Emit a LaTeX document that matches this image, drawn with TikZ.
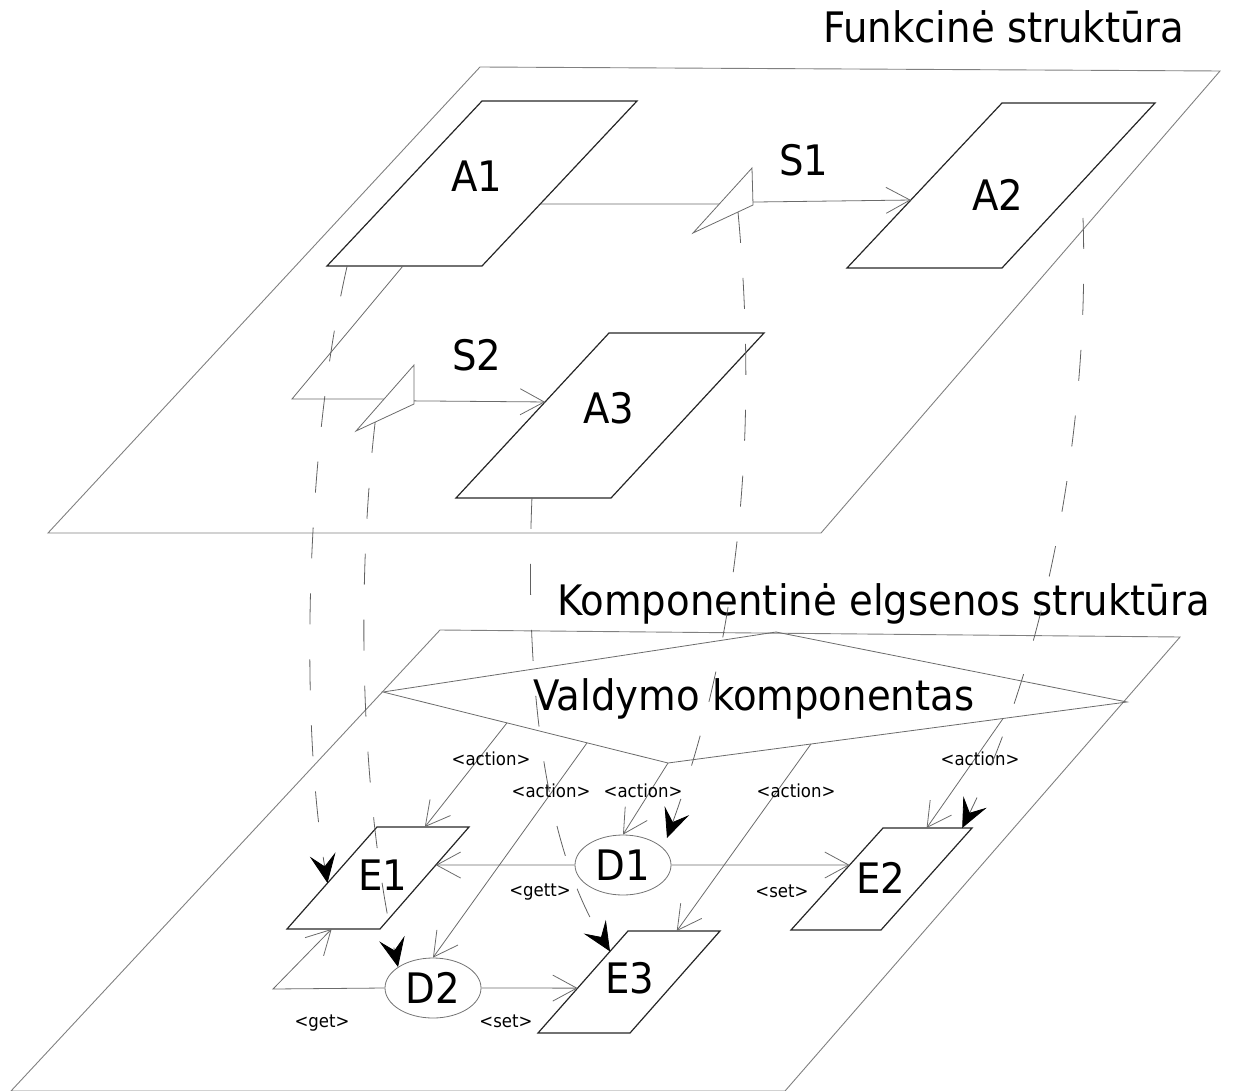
\documentclass[tikz,border=0pt]{standalone}
\usepackage{fontspec}
\setmainfont{DejaVu Sans}[FakeStretch=0.92]
\usetikzlibrary{arrows.meta,shapes.geometric,calc}

\begin{document}
\begin{tikzpicture}[x=1pt,y=-1pt,
  plane/.style={draw=black!50, line width=0.9pt},
  block/.style={draw=black!85, line width=1.2pt},
  flow/.style={draw=black!58, line width=0.8pt},
  flowarrow/.style={flow, -{Straight Barb[length=24pt,width=26pt]}},
  mapping/.style={draw=black!62, line width=0.8pt, dash pattern=on 31pt off 35pt,
    -{Stealth[length=29pt,width=26pt,inset=12pt,color=black]}},
  bigtext/.style={font=\fontsize{42}{42}\selectfont, inner sep=0pt},
  smalltext/.style={font=\fontsize{18}{18}\selectfont, inner sep=0pt},
  store/.style={ellipse, draw=black!55, line width=0.8pt, minimum width=96pt,
    minimum height=60pt, inner sep=0pt, font=\fontsize{42}{42}\selectfont}
]
\useasboundingbox (0,0) rectangle (1233,1091);

% ---------- upper level: functional structure ----------
\node[bigtext, anchor=base west] (ftitle) at (823,43) {Funkcinė struktūra};
\coordinate (fp-tl) at (480,67);  \coordinate (fp-tr) at (1220,71);
\coordinate (fp-br) at (821,533); \coordinate (fp-bl) at (48,533);
\draw[plane] (fp-tl) -- (fp-tr) -- (fp-br) -- (fp-bl) -- cycle;

% activity blocks
\coordinate (A1-bl) at (327,266); \coordinate (A1-br) at (482,266);
\coordinate (A1-tr) at (637,101); \coordinate (A1-tl) at (482,101);
\coordinate (A2-bl) at (847,268); \coordinate (A2-br) at (1002,268);
\coordinate (A2-tr) at (1155,103); \coordinate (A2-tl) at (1002,103);
\coordinate (A3-bl) at (456,498); \coordinate (A3-br) at (611,498);
\coordinate (A3-tr) at (764,333); \coordinate (A3-tl) at (609,333);
\foreach \b in {A1,A2,A3}
  \draw[block] (\b-bl) -- (\b-br) -- (\b-tr) -- (\b-tl) -- cycle;
\node[bigtext] (A1) at (477,176) {A1};
\node[bigtext] (A2) at (998,195) {A2};
\node[bigtext] (A3) at (609,408) {A3};

% signal triangles
\coordinate (S1t-top) at (752,168); \coordinate (S1t-bot) at (753,205);
\coordinate (S1t-tip) at (693,233);
\coordinate (S2t-top) at (414,365); \coordinate (S2t-bot) at (414,404);
\coordinate (S2t-tip) at (356,431);
\draw[flow] (S1t-top) -- (S1t-bot) -- (S1t-tip) -- cycle;
\draw[flow] (S2t-top) -- (S2t-bot) -- (S2t-tip) -- cycle;
\node[bigtext] (S1) at (804,160) {S1};
\node[bigtext] (S2) at (477,355) {S2};

% signal flows
\draw[flow] ($(A1-tr)!0.624!(A1-br)$) -- ($(S1t-tip)!0.446!(S1t-top)$);
\draw[flowarrow] ($(S1t-top)!0.92!(S1t-bot)$) -- ($(A2-tl)!0.588!(A2-bl)$);
\coordinate (s2bend) at (292,399);
\draw[flow] ($(A1-bl)!0.49!(A1-br)$) -- (s2bend) -- ($(S2t-tip)!0.485!(S2t-top)$);
\draw[flowarrow] ($(S2t-top)!0.92!(S2t-bot)$) -- ($(A3-tl)!0.418!(A3-bl)$);

% ---------- lower level: component behaviour structure ----------
\node[bigtext, anchor=base west] (ktitle) at (557,615) {Komponentinė elgsenos struktūra};
\coordinate (kp-tl) at (440,630);  \coordinate (kp-tr) at (1180,637);
\coordinate (kp-br) at (785,1091); \coordinate (kp-bl) at (11,1091);
\draw[plane] (kp-tl) -- (kp-tr) -- (kp-br) -- (kp-bl) -- cycle;

% control component
\coordinate (dL) at (383,692); \coordinate (dT) at (776,632);
\coordinate (dR) at (1127,702); \coordinate (dB) at (668,763);
\draw[flow] (dL) -- (dT) -- (dR) -- (dB) -- cycle;
\node[bigtext, anchor=base west] (VK) at (533,710) {Valdymo komponentas};

% elements
\coordinate (E1-bl) at (287,929); \coordinate (E1-br) at (380,929);
\coordinate (E1-tr) at (469,827); \coordinate (E1-tl) at (377,827);
\coordinate (E2-bl) at (791,930); \coordinate (E2-br) at (881,930);
\coordinate (E2-tr) at (972,828); \coordinate (E2-tl) at (883,828);
\coordinate (E3-bl) at (538,1033); \coordinate (E3-br) at (630,1033);
\coordinate (E3-tr) at (720,931); \coordinate (E3-tl) at (628,931);
\foreach \b in {E1,E2,E3}
  \draw[block] (\b-bl) -- (\b-br) -- (\b-tr) -- (\b-tl) -- cycle;
\node[bigtext] (E1) at (383,875) {E1};
\node[bigtext] (E2) at (881,878) {E2};
\node[bigtext] (E3) at (630,978) {E3};

% data stores
\node[store] (D1) at (623,865) {D1};
\node[store] (D2) at (433,988) {D2};

% actions from the control component
\draw[flowarrow] ($(dL)!0.435!(dB)$) -- ($(E1-tl)!0.52!(E1-tr)$);
\draw[flowarrow] ($(dL)!0.716!(dB)$) -- (D2.north);
\draw[flowarrow] (dB) -- (D1.north);
\draw[flowarrow] ($(dB)!0.3115!(dR)$) -- ($(E3-tl)!0.53!(E3-tr)$);
\draw[flowarrow] ($(dB)!0.73!(dR)$) -- ($(E2-tl)!0.49!(E2-tr)$);
\node[smalltext, anchor=base] (ac1) at (491,765) {<action>};
\node[smalltext, anchor=base] (ac2) at (551,797) {<action>};
\node[smalltext, anchor=base] (ac3) at (643,797) {<action>};
\node[smalltext, anchor=base] (ac4) at (796,797) {<action>};
\node[smalltext, anchor=base] (ac5) at (980,765) {<action>};

% data access
\draw[flowarrow] (D1.west) -- ($(E1-tr)!0.373!(E1-br)$);
\draw[flowarrow] (D1.east) -- ($(E2-tl)!0.363!(E2-bl)$);
\draw[flowarrow] (D2.east) -- ($(E3-tl)!0.56!(E3-bl)$);
\coordinate (getbend) at (273,989);
\draw[flowarrow] (D2.west) -- (getbend) -- ($(E1-bl)!0.48!(E1-br)$);
\node[smalltext, anchor=base] (lgett) at (540,896) {<gett>};
\node[smalltext, anchor=base] (lset1) at (782,897) {<set>};
\node[smalltext, anchor=base] (lget) at (322,1027) {<get>};
\node[smalltext, anchor=base] (lset2) at (506,1027) {<set>};

% ---------- mappings between the levels ----------
\coordinate (A2map) at (1083,218);
\coordinate (D1map) at (667,838);
\draw[mapping] ($(A1-bl)!0.13!(A1-br)$) .. controls (305,450) and (300,720) .. ($(E1-tl)!0.55!(E1-bl)$);
\draw[mapping] ($(S2t-bot)!0.67!(S2t-tip)$) .. controls (355,600) and (362,800) .. (D2.149);
\draw[mapping] ($(A3-bl)!0.49!(A3-br)$) .. controls (526,640) and (535,830) .. ($(E3-tl)!0.2!(E3-bl)$);
\draw[mapping] ($(S1t-bot)!0.25!(S1t-tip)$) .. controls (760,450) and (735,650) .. (D1map);
\draw[mapping] (A2map) .. controls (1090,430) and (1045,660) .. ($(E2-tl)!0.89!(E2-tr)$);
\end{tikzpicture}
\end{document}
